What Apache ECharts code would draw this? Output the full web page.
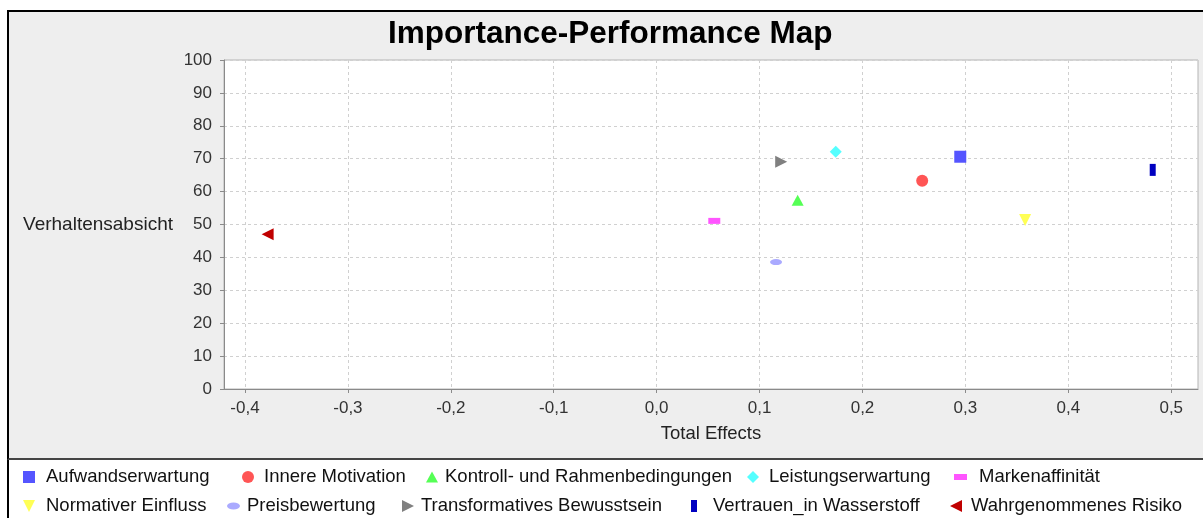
<!DOCTYPE html>
<html>
<head>
<meta charset="utf-8">
<script src="https://cdn.jsdelivr.net/npm/echarts@6/dist/echarts.min.js"></script>
<style>
  html, body { margin: 0; padding: 0; background: #ffffff; }
  body { width: 1203px; height: 518px; position: relative; overflow: hidden; }
  #panel { position: absolute; left: 7px; top: 10px; width: 1196px; height: 450px; box-sizing: border-box;
           background: #eeeeee; border-top: 2px solid #000; border-left: 2px solid #000; border-bottom: 2px solid #444; }
  #legendbox { position: absolute; left: 7px; top: 460px; width: 1196px; height: 58px; box-sizing: border-box;
           background: #ffffff; border-left: 2px solid #000; }
  #chart { position: absolute; left: 0; top: 0; width: 1203px; height: 518px; }
</style>
</head>
<body>
<div id="panel"></div>
<div id="legendbox"></div>
<div id="chart"></div>
<script>
// ---- data ----
const seriesNames = [
  'Aufwandserwartung', 'Innere Motivation', 'Kontroll- und Rahmenbedingungen',
  'Leistungserwartung', 'Markenaffinität', 'Normativer Einfluss', 'Preisbewertung',
  'Transformatives Bewusstsein', 'Vertrauen_in Wasserstoff', 'Wahrgenommenes Risiko'
];
const totalEffects = [0.295, 0.258, 0.137, 0.174, 0.056, 0.358, 0.116, 0.121, 0.482, -0.378];
const performance  = [70.6, 63.3, 57.4, 72.1, 51.1, 51.4, 38.6, 69.1, 66.6, 47.0];
const xTicks = [-0.4, -0.3, -0.2, -0.1, 0.0, 0.1, 0.2, 0.3, 0.4, 0.5];
const yTicks = [0, 10, 20, 30, 40, 50, 60, 70, 80, 90, 100];

// ---- styles ----
const colors = ['#5555ff', '#ff5555', '#55ff55', '#55ffff', '#ff55ff', '#ffff55', '#aaaaff', '#808080', '#0000c0', '#c00000'];
const TRI_UP = 'path://M5,0L10,10L0,10Z';
const TRI_DOWN = 'path://M0,0L10,0L5,10Z';
const TRI_RIGHT = 'path://M0,0L10,5L0,10Z';
const TRI_LEFT = 'path://M10,0L10,10L0,5Z';
const ELLIPSE = 'path://M0,5A10,5 0 1,1 20,5A10,5 0 1,1 0,5Z';
const symbols = ['rect', 'circle', TRI_UP, 'diamond', 'rect', TRI_DOWN, ELLIPSE, TRI_RIGHT, 'rect', TRI_LEFT];
const symSizes = [[12, 12], [12, 12], [12, 11], [12, 12], [12, 6], [12, 12], [12, 6], [12, 12], [6, 12], [12, 12]];
// legend layout: [iconLeft, textLeft, centerY, iconW, iconH]
const legendLayout = [
  [23, 46, 477, 12, 12], [242, 264, 477, 12, 12], [426, 445, 477, 12, 11], [747, 769, 477, 12, 12], [954, 979, 477, 13, 6],
  [23, 46, 506, 12, 12], [227, 247, 506, 13, 7], [402, 421, 506, 12, 12], [691, 713, 506, 6, 12], [950, 971, 506, 12, 12]
];
const FONT = "'Liberation Sans', Arial, sans-serif";
const fmt = v => (Math.round(v * 10) / 10).toFixed(1).replace('.', ',');

const series = seriesNames.map((name, i) => ({
  name: name,
  type: 'scatter',
  symbol: symbols[i],
  symbolSize: symSizes[i],
  symbolKeepAspect: false,
  itemStyle: { color: colors[i], opacity: 1 },
  data: [[totalEffects[i], performance[i]]],
  emphasis: { disabled: true },
  z: 3
}));

const legends = seriesNames.map((name, i) => {
  const [iconLeft, textLeft, cy, w, h] = legendLayout[i];
  return {
    left: iconLeft,
    top: cy - 10,
    padding: 0,
    itemWidth: w,
    itemHeight: h,
    itemGap: 0,
    symbolKeepAspect: false,
    selectedMode: false,
    textStyle: { fontFamily: FONT, fontSize: 18.5, color: '#111', lineHeight: 20,
                 padding: [0, 0, 0, textLeft - iconLeft - w - 5] },
    data: [{ name: name, icon: symbols[i], itemStyle: { color: colors[i] } }]
  };
});

const chart = echarts.init(document.getElementById('chart'), null, { renderer: 'canvas' });
chart.setOption({
  animation: false,
  backgroundColor: 'transparent',
  title: {
    text: 'Importance-Performance Map',
    left: 388, top: 18, padding: 0,
    textStyle: { fontFamily: FONT, fontSize: 31.5, fontWeight: 'bold', color: '#000' }
  },
  legend: legends,
  grid: {
    left: 224, right: 5, top: 60, bottom: 129,
    show: true, backgroundColor: '#ffffff', borderColor: '#b4b4b4', borderWidth: 1
  },
  xAxis: {
    type: 'value',
    min: -0.4204, max: 0.526,
    name: 'Total Effects',
    nameLocation: 'middle', nameGap: 35,
    nameTextStyle: { fontFamily: FONT, fontSize: 18.5, color: '#222' },
    axisLine: { show: true, onZero: false, lineStyle: { color: '#8a8a8a', width: 1 } },
    axisTick: { show: true, inside: false, length: 4, customValues: xTicks, lineStyle: { color: '#8a8a8a' } },
    axisLabel: { customValues: xTicks, formatter: fmt, margin: 11, fontFamily: FONT, fontSize: 17, color: '#333' },
    splitLine: { show: true, lineStyle: { color: '#d0d0d0', type: [3, 3], width: 1 } }
  },
  yAxis: {
    type: 'value',
    min: 0, max: 100, interval: 10,
    name: 'Verhaltensabsicht',
    nameLocation: 'middle', nameGap: 51, nameRotate: 0,
    nameTextStyle: { fontFamily: FONT, fontSize: 19, color: '#222', align: 'right', verticalAlign: 'middle' },
    axisLine: { show: true, onZero: false, lineStyle: { color: '#8a8a8a', width: 1 } },
    axisTick: { show: true, inside: false, length: 4, lineStyle: { color: '#8a8a8a' } },
    axisLabel: { margin: 12, fontFamily: FONT, fontSize: 17, color: '#333', formatter: v => String(v) },
    splitLine: { show: true, lineStyle: { color: '#d0d0d0', type: [3, 3], width: 1 } }
  },
  series: series
});
</script>
</body>
</html>
